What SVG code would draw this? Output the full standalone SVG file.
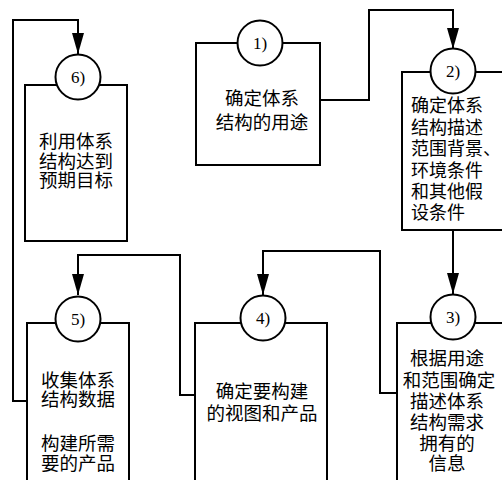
<svg xmlns="http://www.w3.org/2000/svg" width="502" height="480" viewBox="0 0 502 480">
<defs>
<marker id="arr" markerUnits="userSpaceOnUse" markerWidth="22" markerHeight="14" refX="21" refY="6" orient="auto">
<path d="M0,0 L21,6 L0,12 Z" fill="#000"/>
</marker>
<style>
.box{fill:#fff;stroke:#000;stroke-width:2}
.cir{fill:#fff;stroke:#000;stroke-width:2}
.num{font-family:"Liberation Serif",serif;font-size:17px;text-anchor:middle;fill:#000}
.t{font-family:"Noto Sans CJK SC","Noto Sans CJK JP",sans-serif;font-size:18.5px;fill:#000}
.s{font-size:18px}
.c{text-anchor:middle}
.con{fill:none;stroke:#000;stroke-width:2}
</style>
</defs>
<rect width="502" height="480" fill="#fff"/>
<g id="connectors">
<path class="con" d="M320,100 H369 V10 H453 V49" marker-end="url(#arr)"/>
<path class="con" d="M453,230 V294" marker-end="url(#arr)"/>
<path class="con" d="M397,393 H380 V251 H263 V295" marker-end="url(#arr)"/>
<path class="con" d="M195,395 H180 V255 H78 V295" marker-end="url(#arr)"/>
<path class="con" d="M27,401 H13 V20 H78 V54" marker-end="url(#arr)"/>
</g>
<g id="node1">
<rect class="box" x="196" y="43" width="124" height="122"/>
<circle class="cir" cx="260" cy="43" r="22.5"/>
<text class="num" x="260" y="49">1)</text>
<text class="t c"><tspan x="262" y="105">确定体系</tspan><tspan x="262" y="129">结构的用途</tspan></text>
</g>
<g id="node2">
<rect class="box" x="402" y="72" width="110" height="158"/>
<circle class="cir" cx="453" cy="71" r="22.5"/>
<text class="num" x="453" y="77">2)</text>
<text class="t s"><tspan x="411" y="112">确定体系</tspan><tspan x="411" y="133.5">结构描述</tspan><tspan x="411" y="155">范围背景、</tspan><tspan x="411" y="177">环境条件</tspan><tspan x="411" y="198">和其他假</tspan><tspan x="411" y="219">设条件</tspan></text>
</g>
<g id="node3">
<rect class="box" x="397" y="323" width="115" height="170"/>
<circle class="cir" cx="453" cy="317" r="22.5"/>
<text class="num" x="453" y="323">3)</text>
<text class="t c"><tspan x="447" y="364.5">根据用途</tspan><tspan x="449" y="386.5">和范围确定</tspan><tspan x="447" y="407.5">描述体系</tspan><tspan x="447" y="428.5">结构需求</tspan><tspan x="447" y="449.5">拥有的</tspan><tspan x="447" y="470">信息</tspan></text>
</g>
<g id="node4">
<rect class="box" x="195" y="323" width="132" height="170"/>
<circle class="cir" cx="263" cy="318" r="22.5"/>
<text class="num" x="263" y="324">4)</text>
<text class="t c"><tspan x="262" y="397.5">确定要构建</tspan><tspan x="262" y="419.5">的视图和产品</tspan></text>
</g>
<g id="node5">
<rect class="box" x="27" y="323" width="102" height="170"/>
<circle class="cir" cx="78" cy="319" r="22.5"/>
<text class="num" x="78" y="325">5)</text>
<text class="t c"><tspan x="78" y="386.5">收集体系</tspan><tspan x="78" y="405.5">结构数据</tspan><tspan x="78" y="449.5">构建所需</tspan><tspan x="78" y="469.5">要的产品</tspan></text>
</g>
<g id="node6">
<rect class="box" x="25" y="85" width="102" height="156"/>
<circle class="cir" cx="78" cy="77" r="22.5"/>
<text class="num" x="78" y="83">6)</text>
<text class="t c"><tspan x="76" y="148">利用体系</tspan><tspan x="76" y="167.5">结构达到</tspan><tspan x="76" y="187">预期目标</tspan></text>
</g>
</svg>
